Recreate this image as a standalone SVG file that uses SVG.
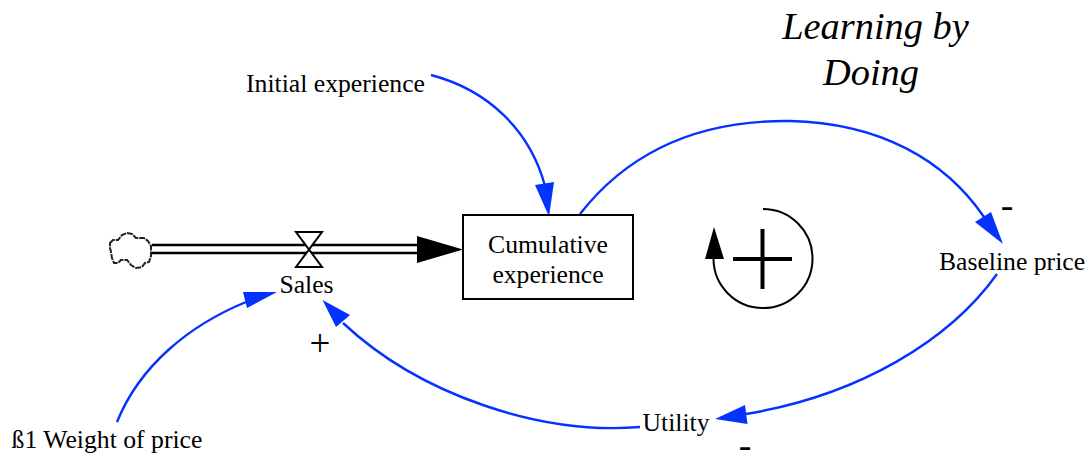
<svg xmlns="http://www.w3.org/2000/svg" width="1088" height="455" viewBox="0 0 1088 455">
<style>
text{font-family:"Liberation Serif","Times New Roman",serif;font-size:25.7px;fill:#000;text-anchor:middle}
.t{font-size:38.4px;font-style:italic}
.l{fill:none;stroke:#0433ff;stroke-width:2.4}
.h{fill:#0433ff}
</style>
<rect width="1088" height="455" fill="#fff"/>
<g id="title"><text class="t" x="875.500" y="39">Learning by</text><text class="t" x="871" y="85">Doing</text></g>
<g id="connectors">
<path class="l" d="M431 75C488 90 530 130 545 186"/><polygon class="h" points="549,216.500 535,185 554,182"/>
<path class="l" d="M580 214C630 150 700 120 790 121C880 123 945 160 984 217"/><polygon class="h" points="1003,244 975,222 991,212"/>
<path class="l" d="M997 274C950 340 860 395 746 414"/><polygon class="h" points="715,419 745,405 747.500,424"/>
<path class="l" d="M640 427C540 435 420 395 343 323"/><polygon class="h" points="322.500,300 350,315 336,327"/>
<path class="l" d="M117 422C140 365 190 325 246 302"/><polygon class="h" points="277,292 243,292 247,308"/>
</g>
<g id="pipe">
<path d="M152 245H418M152 253H418" fill="none" stroke="#000" stroke-width="2.500"/>
<polygon points="417,236 463,249.500 417,263" fill="#000"/>
</g>
<g id="cloud"><path d="M110 243L113 240L118 240L122 235L127 233L132 234L136 238L144 238L148 241L151 246L151 256L149 262L145 263L142 267L136 268L131 265L127 260L121 260L118 263L114 263L112 258L111 252L110 248Z" fill="#fff" stroke="#222" stroke-width="2" stroke-dasharray="6 1"/></g>
<g id="sales"><polygon points="296,232 322,232 296,267 322,267" fill="#fff" stroke="#000" stroke-width="2"/><text x="306.500" y="293">Sales</text></g>
<g id="cumulative"><rect x="463" y="215" width="170" height="84" fill="#fff" stroke="#000" stroke-width="2"/><text x="548" y="253">Cumulative</text><text x="548" y="283">experience</text></g>
<g id="initial"><text x="335.500" y="92">Initial experience</text></g>
<g id="baseline"><text x="1012" y="270">Baseline price</text></g>
<g id="utility"><text x="676" y="431">Utility</text></g>
<g id="weight"><text x="107" y="448">ß1 Weight of price</text></g>
<g id="loop">
<path d="M763 209A49.500 49.500 0 1 1 713.500 258" fill="none" stroke="#000" stroke-width="2"/>
<polygon points="714,227 705,259 724,259" fill="#000"/>
<path d="M733 259H792M762.500 229V289" stroke="#000" stroke-width="4" fill="none"/>
</g>
<g id="signs"><text x="1007" y="218" style="font-size:38px">-</text><text x="320" y="356" style="font-size:37px">+</text><text x="745" y="458" style="font-size:38px">-</text></g>
</svg>
